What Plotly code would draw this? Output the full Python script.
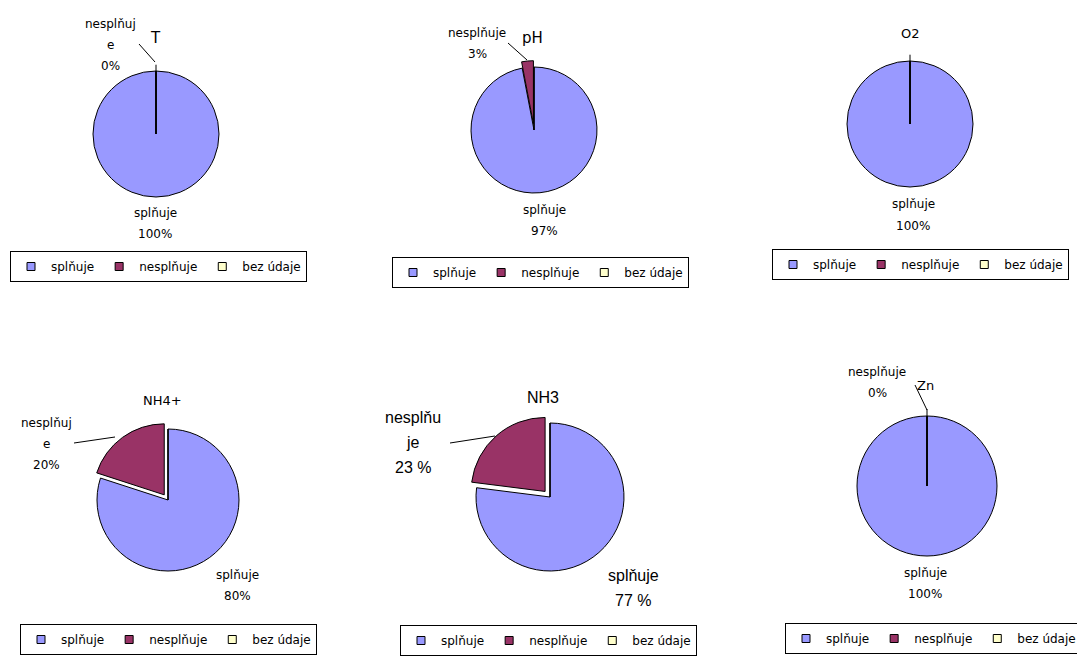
import math
import plotly.graph_objects as go

W, H = 1077, 657

# categories shared by every pie, in drawing order (clockwise from 12 o'clock)
categories = ["splňuje", "nesplňuje", "bez údaje"]
slice_colors = ["#9999FF", "#993366", "#FFFFCC"]

titles = ["T", "pH", "O2", "NH4+", "NH3", "Zn"]
share_T = [100, 0, 0]
share_pH = [97, 3, 0]
share_O2 = [100, 0, 0]
share_NH4 = [80, 20, 0]
share_NH3 = [77, 23, 0]
share_Zn = [100, 0, 0]
shares = [share_T, share_pH, share_O2, share_NH4, share_NH3, share_Zn]

# how the "nesplňuje" data label wraps in each chart (None = no label shown)
fail_label_lines = [["nesplňuj", "e"], ["nesplňuje"], None,
                    ["nesplňuj", "e"], ["nesplňu", "je"], ["nesplňuje"]]
pct_suffix = ["%", "%", "%", "%", " %", "%"]

# per-panel geometry in pixels
panels = [
    dict(c=(156, 134), r=63, pull=0.0, title=(155, 38), tsize=15, font="DejaVu Sans", fsize=12, lh=21,
         pass_at=(155, 213), fail_at=(110, 24), lead=((139, 44), (155, 62)), legend=(10, 251)),
    dict(c=(534, 130), r=63, pull=0.1, title=(532, 38), tsize=15, font="DejaVu Sans", fsize=12, lh=21,
         pass_at=(544, 210), fail_at=(477, 33), lead=((508, 43), (527, 60)), legend=(392, 257)),
    dict(c=(910, 124), r=63, pull=0.0, title=(910, 33), tsize=13, font="DejaVu Sans", fsize=12, lh=22,
         pass_at=(913, 204), fail_at=None, lead=None, legend=(772, 249)),
    dict(c=(168, 500), r=71, pull=0.09, title=(162, 400), tsize=13, font="DejaVu Sans", fsize=12, lh=21,
         pass_at=(237, 575), fail_at=(46, 423), lead=((74, 443), (115, 437)), legend=(20, 624)),
    dict(c=(550, 497), r=74, pull=0.1, title=(543, 397), tsize=16, font="Liberation Sans", fsize=16, lh=25,
         pass_at=(633, 575), fail_at=(413, 417), lead=((450, 443), (495, 436)), legend=(400, 625)),
    dict(c=(927, 486), r=70, pull=0.0, title=(925, 385), tsize=13, font="DejaVu Sans", fsize=12, lh=21,
         pass_at=(925, 573), fail_at=(877, 372), lead=((915, 385), (927, 410)), legend=(785, 623)),
]


def px(x):
    return x / W


def py(y):
    return 1 - y / H


fig = go.Figure()
annotations = []
shapes = []

for i, (name, vals, p) in enumerate(zip(titles, shares, panels)):
    cx, cy = p["c"]
    pulls = [p["pull"] if (k == 1 and v > 0) else 0 for k, v in enumerate(vals)]
    R = p["r"] * (1 + max(pulls))
    legend_id = "legend" if i == 0 else f"legend{i + 1}"
    fig.add_trace(go.Pie(
        labels=categories, values=vals, sort=False, direction="clockwise", rotation=0,
        marker=dict(colors=slice_colors, line=dict(color="black", width=1)),
        pull=pulls, textinfo="none", hoverinfo="label+percent",
        domain=dict(x=[px(cx - R), px(cx + R)], y=[py(cy + R), py(cy - R)]),
        showlegend=False, name=name,
    ))

    # legend entries of this chart (one per category, kept in its own legend box)
    for cat, col in zip(categories, slice_colors):
        fig.add_trace(go.Scatter(
            x=[None], y=[None], mode="markers", name=cat, legend=legend_id, showlegend=True,
            marker=dict(symbol="square", size=8, color=col, line=dict(color="black", width=1)),
            hoverinfo="skip",
        ))

    font = dict(family=p["font"], size=p["fsize"], color="black")

    # chart title
    annotations.append(dict(x=px(p["title"][0]), y=py(p["title"][1]), text=name, showarrow=False,
                            xref="paper", yref="paper", xanchor="center", yanchor="middle",
                            font=dict(family=p["font"], size=p["tsize"], color="black")))

    # data label of the passing share
    pass_lines = [categories[0], f"{vals[0]}{pct_suffix[i]}"]
    for j, line in enumerate(pass_lines):
        annotations.append(dict(x=px(p["pass_at"][0]), y=py(p["pass_at"][1] + j * p["lh"]), text=line,
                                showarrow=False, xref="paper", yref="paper",
                                xanchor="center", yanchor="middle", font=font))

    # data label of the failing share
    if fail_label_lines[i] is not None:
        lines = fail_label_lines[i] + [f"{vals[1]}{pct_suffix[i]}"]
        for j, line in enumerate(lines):
            annotations.append(dict(x=px(p["fail_at"][0]), y=py(p["fail_at"][1] + j * p["lh"]), text=line,
                                    showarrow=False, xref="paper", yref="paper",
                                    xanchor="center", yanchor="middle", font=font))
        (x0, y0), (x1, y1) = p["lead"]
        shapes.append(dict(type="line", xref="paper", yref="paper",
                           x0=px(x0), y0=py(y0), x1=px(x1), y1=py(y1),
                           line=dict(color="black", width=1)))

    # outline of a zero-width slice: radius at the end of the passing share
    if vals[0] == sum(vals):
        ang = 2 * math.pi * vals[0] / sum(vals)
        tip_r = p["r"] * 1.1
        shapes.append(dict(type="line", xref="paper", yref="paper",
                           x0=px(cx), y0=py(cy),
                           x1=px(cx + tip_r * math.sin(ang)), y1=py(cy - tip_r * math.cos(ang)),
                           line=dict(color="black", width=1)))

    lx, ly = p["legend"]
    fig.update_layout(**{legend_id: dict(
        x=px(lx), y=py(ly), xanchor="left", yanchor="top", orientation="h",
        bgcolor="white", bordercolor="black", borderwidth=1,
        font=dict(family="DejaVu Sans", size=12, color="black"),
        itemclick=False, itemdoubleclick=False, tracegroupgap=0,
    )})

fig.update_layout(
    width=W, height=H, margin=dict(l=0, r=0, t=0, b=0, autoexpand=False),
    paper_bgcolor="white", plot_bgcolor="white",
    xaxis=dict(visible=False, showgrid=False, zeroline=False),
    yaxis=dict(visible=False, showgrid=False, zeroline=False),
    annotations=annotations, shapes=shapes,
)

fig.write_html("out.html")
